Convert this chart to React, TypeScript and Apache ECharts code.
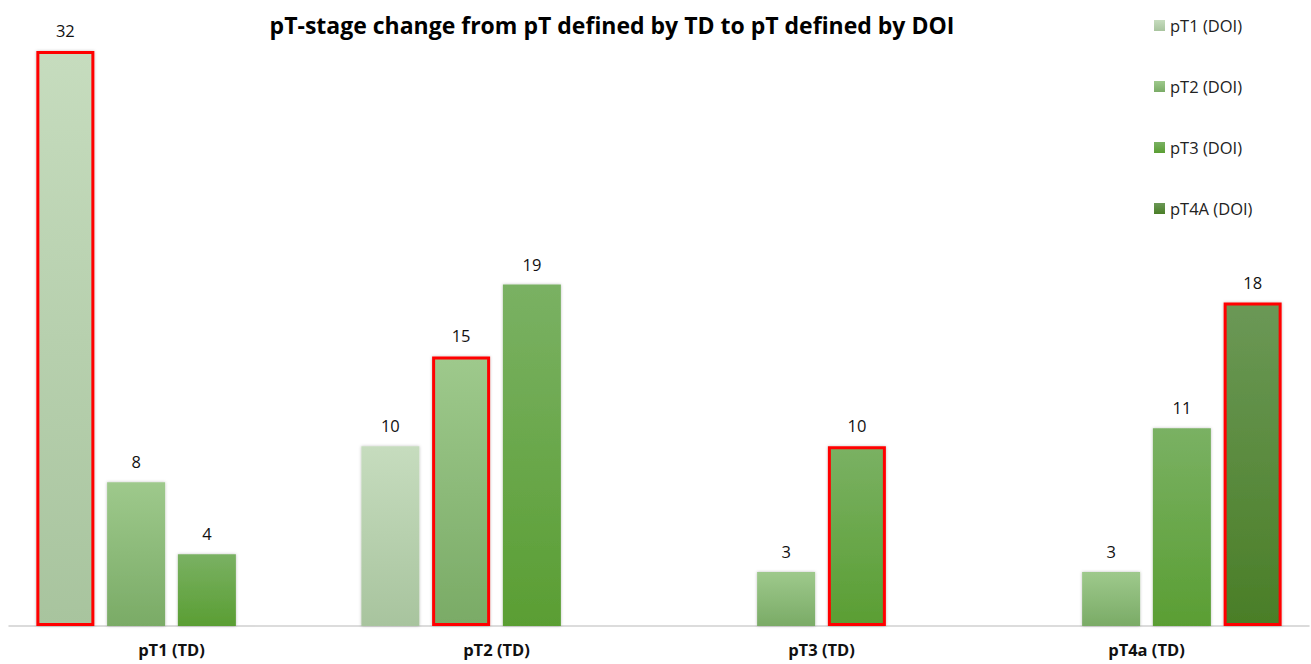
import React, { useEffect, useRef } from "react";
import * as echarts from "echarts";

const categories = ["pT1 (TD)", "pT2 (TD)", "pT3 (TD)", "pT4a (TD)"];
const seriesNames = ["pT1 (DOI)", "pT2 (DOI)", "pT3 (DOI)", "pT4A (DOI)"];
const pT1Values = [32, 10, null, null];
const pT2Values = [8, 15, 3, 3];
const pT3Values = [4, 19, 10, 11];
const pT4AValues = [null, null, null, 18];
const highlighted = [0, 1, 2, 3]; // series index highlighted per category
const gradients = [
  ["#c6dcbe", "#a8c49e"],
  ["#9ec98c", "#7aab66"],
  ["#7ab163", "#5a9e33"],
  ["#6b9856", "#4a7e27"],
];

export default function App() {
  const ref = useRef<HTMLDivElement>(null);
  useEffect(() => {
    if (!ref.current) return;
    const chart = echarts.init(ref.current, undefined, { renderer: "svg" });
    const font = "'Open Sans', 'Noto Sans', sans-serif";
    const all = [pT1Values, pT2Values, pT3Values, pT4AValues];
    const series = all.map((vals, si) => ({
      name: seriesNames[si],
      type: "bar",
      barWidth: 58,
      barGap: "22%",
      itemStyle: {
        color: new echarts.graphic.LinearGradient(0, 0, 0, 1, [
          { offset: 0, color: gradients[si][0] },
          { offset: 1, color: gradients[si][1] },
        ]),
        shadowBlur: 3,
        shadowColor: "rgba(0,0,0,0.25)",
      },
      label: {
        show: true,
        position: "top",
        distance: 12,
        fontFamily: font,
        fontSize: 16.5,
        color: "#111",
      },
      data: vals.map((v, ci) =>
        v === null
          ? "-"
          : highlighted[ci] === si
          ? { value: v, itemStyle: { borderColor: "#ff0000", borderWidth: 3 } }
          : v
      ),
    }));
    chart.setOption({
      animation: false,
      title: {
        text: "pT-stage change from pT defined by TD to pT defined by DOI",
        left: 607,
        textAlign: "center",
        top: 8,
        textStyle: { fontFamily: font, fontSize: 23, fontWeight: "bold", color: "#000" },
      },
      legend: {
        orient: "vertical",
        left: 1149,
        top: 12,
        itemWidth: 11,
        itemHeight: 11,
        itemGap: 44,
        icon: "rect",
        textStyle: { fontFamily: font, fontSize: 16.5, color: "#222" },
        data: seriesNames,
      },
      grid: { left: 9, right: 2, top: 51, bottom: 38 },
      xAxis: {
        type: "category",
        data: categories,
        axisLine: { lineStyle: { color: "#d0d0d0", width: 1.5 } },
        axisTick: { show: false },
        axisLabel: {
          margin: 15,
          fontFamily: font,
          fontSize: 16.5,
          fontWeight: "bold",
          color: "#111",
        },
      },
      yAxis: { type: "value", min: 0, max: 32, show: false, splitLine: { show: false } },
      series,
    });
    return () => chart.dispose();
  }, []);
  return (
    <div
      ref={ref}
      style={{ position: "fixed", left: 0, top: 0, width: 1311, height: 664, background: "#fff" }}
    />
  );
}
